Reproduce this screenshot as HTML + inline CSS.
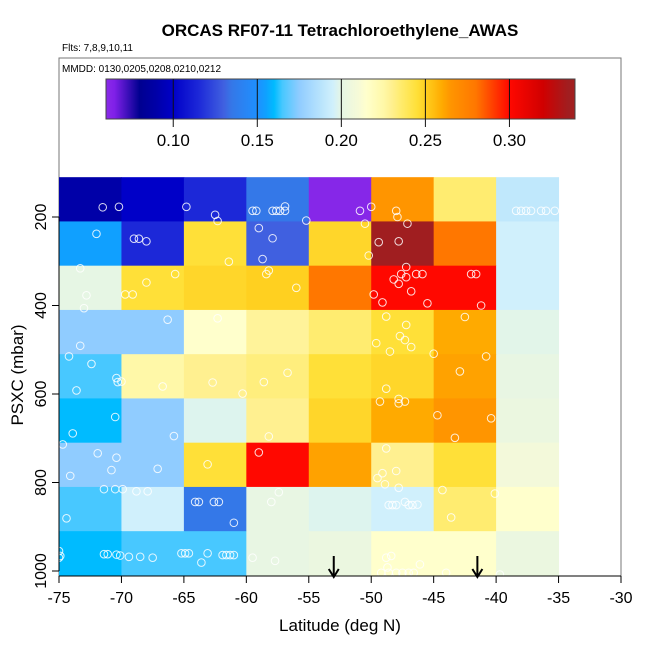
<!DOCTYPE html>
<html><head><meta charset="utf-8"><style>
body{margin:0;background:#fff;}
svg{display:block;font-family:"Liberation Sans",Arial,sans-serif;}
</style></head><body>
<svg id="chart" width="650" height="650" viewBox="0 0 650 650">
<defs><linearGradient id="cbgrad" x1="0" x2="1" y1="0" y2="0"></linearGradient></defs>
<text x="340" y="36" text-anchor="middle" font-size="17" font-weight="bold">ORCAS RF07-11 Tetrachloroethylene_AWAS</text>
<text x="62" y="51" font-size="10">Flts: 7,8,9,10,11</text>
<rect x="59" y="58" width="562" height="518" fill="none" stroke="#777" stroke-width="1"/>
<text x="62" y="72" font-size="10">MMDD: 0130,0205,0208,0210,0212</text>
<g id="cells"></g>
<g id="pts"></g>
<g id="cbar"></g>
<g id="axes"></g>
<text x="340" y="631" text-anchor="middle" font-size="17">Latitude (deg N)</text>
<text transform="translate(23,375) rotate(-90)" text-anchor="middle" font-size="17">PSXC (mbar)</text>
</svg>
<script>
const latEdges = [-75,-70,-65,-60,-55,-50,-45,-40,-35];
const presEdges = [110,210,310,410,510,610,710,810,910,1010];
const cellValues = [
 [0.09,0.10,0.115,0.135,0.062,0.265,0.235,0.19],
 [0.155,0.115,0.245,0.13,0.248,0.335,0.28,0.195],
 [0.20,0.245,0.248,0.25,0.28,0.30,0.30,0.195],
 [0.175,0.175,0.215,0.228,0.235,0.245,0.26,0.199],
 [0.165,0.225,0.23,0.233,0.245,0.248,0.262,0.201],
 [0.16,0.175,0.198,0.23,0.248,0.26,0.265,0.203],
 [0.175,0.175,0.245,0.30,0.262,0.23,0.245,0.208],
 [0.165,0.195,0.135,0.201,0.198,0.195,0.235,0.215],
 [0.16,0.165,0.165,0.201,0.203,0.215,0.215,0.203]
];
const pointLat = [-71.5,-70.2,-64.8,-62.5,-62.3,-59.5,-59.2,-57.9,-57.6,-57.3,-56.9,-56.9,-55.2,-50.9,-50.0,-50.5,-48.0,-47.9,-47.1,-38.4,-38.0,-37.6,-37.2,-36.4,-36.0,-35.3,
 -72.0,-69.0,-68.6,-68.0,-61.4,-59.0,-57.9,-58.7,-49.4,-47.8,-50.2,
 -73.3,-72.8,-73.0,-69.7,-69.1,-68.0,-65.7,-58.4,-58.2,-56.0,-47.2,-47.6,-47.2,-48.2,-47.8,-46.8,-46.4,-45.9,-49.8,-49.1,-45.5,-42.0,-41.6,-41.2,
 -66.3,-62.3,-73.3,-48.8,-47.2,-47.7,-47.3,-46.8,-49.6,-48.5,-45.0,-42.5,-40.8,
 -74.2,-72.4,-73.6,-70.4,-70.3,-70.0,-66.7,-62.7,-60.3,-58.6,-56.7,-48.8,-49.3,-47.8,-47.8,-47.3,-42.9,
 -70.5,-73.9,-65.8,-58.2,-44.7,-40.4,-43.3,
 -74.7,-71.9,-70.4,-70.8,-74.1,-67.1,-63.1,-59.0,-48.8,-48.0,-49.1,-49.5,-48.9,-47.8,
 -71.4,-70.5,-69.9,-68.8,-67.9,-74.4,-64.1,-63.8,-62.6,-62.2,-61.0,-57.4,-58.0,-44.3,-40.1,-43.6,-48.6,-48.3,-48.0,-47.3,-47.0,-46.7,-46.3,
 -75.0,-74.9,-75.0,-71.4,-71.1,-70.4,-70.1,-69.4,-68.5,-67.5,-65.2,-64.9,-64.6,-63.6,-63.1,-61.9,-61.6,-61.3,-61.0,-59.5,-57.7,-48.8,-48.4,-48.7,-49.2,-48.6,-48.0,-47.5,-47.0,-46.6,-46.1,-44.0,-39.7];
const pointPres = [178,177,177,195,209,186,186,186,186,186,176,186,208,186,177,215,186,200,215,186,186,186,186,186,186,186,
 238,249,249,255,301,225,248,295,257,255,287,
 316,377,406,375,375,348,329,329,321,360,313,329,336,341,351,368,329,329,375,393,395,329,329,400,
 432,429,491,425,444,469,478,494,485,504,509,426,515,
 515,532,592,564,573,572,583,574,599,573,552,588,617,611,621,617,549,
 652,689,695,696,648,655,699,
 714,734,744,772,785,769,759,732,723,774,779,790,804,812,
 815,815,815,820,820,881,844,844,844,844,891,822,844,817,825,879,851,851,851,844,851,851,850,
 955,966,970,962,962,963,965,968,968,970,960,960,960,981,960,964,964,964,964,970,977,970,966,992,1004,1004,1004,1004,1004,1004,985,1004,1008];
const arrowLat = [-53,-41.5];
const xTicks = [-75,-70,-65,-60,-55,-50,-45,-40,-35,-30];
const yTicks = [200,400,600,800,1000];
const cbTicks = [0.10,0.15,0.20,0.25,0.30];
const cbTickLabels = ["0.10","0.15","0.20","0.25","0.30"];
const stopVals = [0.060,0.065,0.08,0.09,0.10,0.115,0.13,0.135,0.15,0.155,0.16,0.165,0.175,0.19,0.195,0.20,0.21,0.215,0.225,0.23,0.235,0.245,0.25,0.26,0.265,0.28,0.30,0.32,0.335,0.339];
const stopCols = ["#8a2be8","#8020e8","#000090","#0000a8","#0000c8","#1c28d8","#4060e0","#3478e8","#1e90ff","#10a0ff","#00bbff","#48c8ff","#90ccff","#c0e8fc","#d0f0fc","#e6f6e4","#f6fad8","#ffffcc","#fff8a8","#fff090","#ffec70","#ffe038","#ffd020","#ffaa00","#ff9500","#ff7700","#ff0800","#d00000","#a01e20","#a52020"];

const NS="http://www.w3.org/2000/svg";
const xS = v => 59 + (v+75)*562/45;
const yS = p => 571 - (1000-p)*0.4425;
const cbX = v => 106 + (v-0.06)*(469/0.279);
function hex(h){return [1,3,5].map(i=>parseInt(h.substr(i,2),16));}
function color(v){
  if(v<=stopVals[0]) return stopCols[0];
  for(let i=1;i<stopVals.length;i++){
    if(v<=stopVals[i]){
      const t=(v-stopVals[i-1])/(stopVals[i]-stopVals[i-1]);
      const a=hex(stopCols[i-1]),b=hex(stopCols[i]);
      return "rgb("+a.map((c,k)=>Math.round(c+(b[k]-c)*t)).join(",")+")";
    }
  }
  return stopCols[stopCols.length-1];
}
function mk(tag,attrs,parent){const e=document.createElementNS(NS,tag);for(const k in attrs)e.setAttribute(k,attrs[k]);parent.appendChild(e);return e;}

const cells=document.getElementById('cells');
cellValues.forEach((row,r)=>row.forEach((v,c)=>{
  const e=mk('rect',{x:xS(latEdges[c]),y:yS(presEdges[r]),width:xS(latEdges[c+1])-xS(latEdges[c])+0.5,height:yS(presEdges[r+1])-yS(presEdges[r])+0.5,fill:color(v)},cells);
  
  
}));
const pts=document.getElementById('pts');
pointLat.forEach((la,i)=>{
  const e=mk('circle',{cx:xS(la),cy:yS(pointPres[i]),r:3.8,fill:'none',stroke:'rgba(255,255,255,0.85)','stroke-width':1},pts);
  
  
});
// colorbar
const grad=document.getElementById('cbgrad');
stopVals.forEach((v,i)=>mk('stop',{offset:((v-0.06)/0.279).toFixed(4),'stop-color':stopCols[i]},grad));
const cb=document.getElementById('cbar');
const cbr=mk('rect',{x:106,y:79,width:469,height:40,fill:'url(#cbgrad)',stroke:'#444','stroke-width':1},cb);


cbTicks.forEach((v,i)=>{
  const l=mk('line',{x1:cbX(v),x2:cbX(v),y1:79,y2:127,stroke:'#111','stroke-width':1},cb);
  
  
  const t=mk('text',{x:cbX(v),y:146,'text-anchor':'middle','font-size':17},cb);
  t.textContent=cbTickLabels[i];
  
  
});
// axes
const ax=document.getElementById('axes');
mk('line',{x1:59,x2:621,y1:576,y2:576,stroke:'#000'},ax);
xTicks.forEach(v=>{
  const l=mk('line',{x1:xS(v),x2:xS(v),y1:576,y2:583,stroke:'#000'},ax);
  
  
  const t=mk('text',{x:xS(v),y:603,'text-anchor':'middle','font-size':16},ax);
  t.textContent=v;
  
  
});
mk('line',{x1:59,x2:59,y1:yS(200),y2:yS(1000),stroke:'#000'},ax);
yTicks.forEach(v=>{
  const l=mk('line',{x1:52,x2:59,y1:yS(v),y2:yS(v),stroke:'#000'},ax);
  
  
  const t=mk('text',{transform:`translate(46,${yS(v)}) rotate(-90)`,'text-anchor':'middle','font-size':16},ax);
  t.textContent=v;
  
  
});
arrowLat.forEach(la=>{
  const x=xS(la);
  const g=mk('g',{},ax);
  
  
  mk('line',{x1:x,x2:x,y1:556,y2:576,stroke:'#000','stroke-width':2},g);
  mk('path',{d:`M${x-5},${569} L${x},${577} L${x+5},${569}`,fill:'none',stroke:'#000','stroke-width':2},g);
});
</script>
</body></html>
